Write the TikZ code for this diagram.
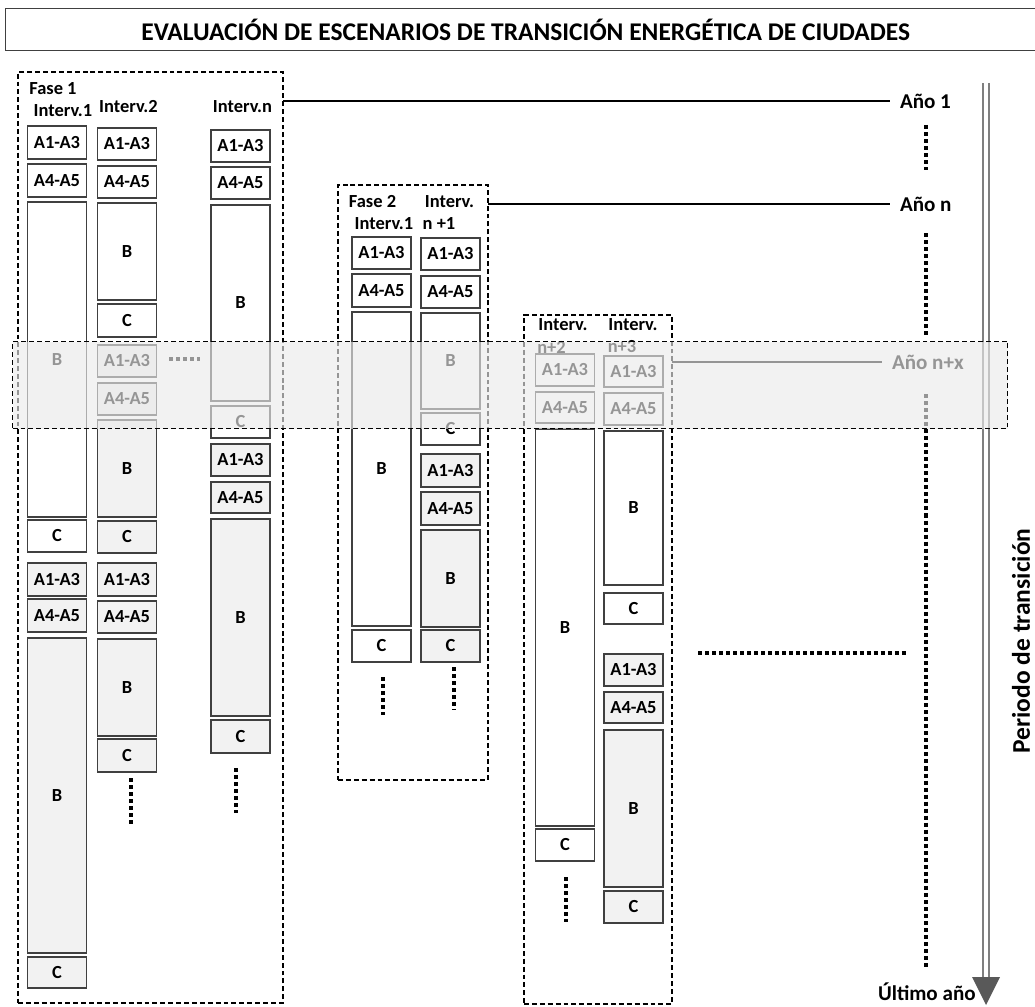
\documentclass[tikz,border=0pt]{standalone}
\usepackage{fontspec}
\setmainfont{Carlito}
\usepackage{tikz}
\definecolor{cellGrey}{HTML}{F2F2F2}
\definecolor{cellLine}{HTML}{404040}
\definecolor{bandFill}{HTML}{EAEAEA}
\definecolor{shaftGrey}{HTML}{7F7F7F}
\definecolor{tipGrey}{HTML}{595959}

\begin{document}
\begin{tikzpicture}[x=0.02cm, y=-0.02cm,
    cell/.style={draw=cellLine, line width=0.85pt, minimum width=59*0.02cm, inner sep=0pt, outer sep=0pt, anchor=north, font=\fontsize{10.5}{12}\selectfont\bfseries},
    wcell/.style={cell, fill=white},
    gcell/.style={cell, fill=cellGrey},
    bh/.style={minimum height=#1*0.02cm},
    phase/.style={draw, dash pattern=on 2.8pt off 1.7pt, line width=0.75pt, inner sep=0pt, outer sep=0pt, anchor=north west},
    lbl/.style={font=\fontsize{10.5}{12}\selectfont\bfseries, inner sep=0pt},
    year/.style={font=\fontsize{12}{14}\selectfont\bfseries, anchor=west, inner xsep=5.5pt, inner ysep=0pt},
    dotline/.style={line width=2.3pt, dash pattern=on 2.3pt off 1.7pt}]
        \useasboundingbox (0,0) rectangle (1035,1007);

        \node[draw=cellLine, line width=0.8pt, anchor=north west, minimum width=1040*0.02cm, minimum height=42*0.02cm, font=\fontsize{14.5}{16}\selectfont\bfseries] (titulo) at (5,8) {EVALUACIÓN DE ESCENARIOS DE TRANSICIÓN ENERGÉTICA DE CIUDADES};

        \node[phase, minimum width=265*0.02cm, minimum height=931*0.02cm] (fase1) at (18,72) {};
        \node[lbl, anchor=west] (f1) at (29,89) {Fase 1};
        \node[lbl] (f1i1) at (63,111) {Interv.1};
        \node[lbl] (f1i2) at (128.5,107) {Interv.2};
        \node[lbl] (f1in) at (242.5,107) {Interv.n};

        \node[wcell, bh=33] (p1c1a) at (57,126) {A1-A3};
        \node[wcell, bh=33] (p1c1b) at (57,164) {A4-A5};
        \node[wcell, bh=315] (p1c1c) at (57,202) {B};
        \node[wcell, bh=32] (p1c1d) at (57,520) {C};
        \node[gcell, bh=33] (p1c1e) at (57,563) {A1-A3};
        \node[gcell, bh=33] (p1c1f) at (57,599) {A4-A5};
        \node[gcell, bh=315] (p1c1g) at (57,638) {B};
        \node[gcell, bh=31] (p1c1h) at (57,957) {C};

        \node[wcell, bh=32] (p1c2a) at (127,128) {A1-A3};
        \node[wcell, bh=32] (p1c2b) at (127,166) {A4-A5};
        \node[wcell, bh=97] (p1c2c) at (127,203) {B};
        \node[wcell, bh=33] (p1c2d) at (127,304) {C};
        \node[gcell, bh=32] (p1c2e) at (127,345) {A1-A3};
        \node[gcell, bh=32] (p1c2f) at (127,383) {A4-A5};
        \node[gcell, bh=97] (p1c2g) at (127,420) {B};
        \node[gcell, bh=32] (p1c2h) at (127,521) {C};
        \node[gcell, bh=33] (p1c2i) at (127,563) {A1-A3};
        \node[gcell, bh=32] (p1c2j) at (127,601) {A4-A5};
        \node[gcell, bh=97] (p1c2k) at (127,639) {B};
        \node[gcell, bh=33] (p1c2l) at (127,739) {C};

        \node[wcell, bh=32] (p1c3a) at (240.5,130) {A1-A3};
        \node[wcell, bh=32] (p1c3b) at (240.5,167) {A4-A5};
        \node[wcell, bh=196] (p1c3c) at (240.5,205) {B};
        \node[wcell, bh=32] (p1c3d) at (240.5,406) {C};
        \node[gcell, bh=32] (p1c3e) at (240.5,444) {A1-A3};
        \node[gcell, bh=31] (p1c3f) at (240.5,482) {A4-A5};
        \node[gcell, bh=197] (p1c3g) at (240.5,519) {B};
        \node[gcell, bh=33] (p1c3h) at (240.5,720) {C};

        \draw[dotline] (131,778) -- (131,824);
        \draw[dotline] (236,768) -- (236,813);
        \draw[dotline] (169,359) -- (200,359);

        \node[phase, minimum width=150*0.02cm, minimum height=595*0.02cm] (fase2) at (338,185) {};
        \node[lbl] (f2) at (372.5,202) {Fase 2};
        \node[lbl] (f2i1) at (384,224) {Interv.1};
        \node[lbl] (f2i2a) at (449.5,202) {Interv.};
        \node[lbl] (f2i2b) at (439,224) {n +1};

        \node[wcell, bh=32] (p2c1a) at (381.5,237) {A1-A3};
        \node[wcell, bh=33] (p2c1b) at (381.5,274) {A4-A5};
        \node[wcell, bh=314] (p2c1c) at (381.5,312) {B};
        \node[wcell, bh=32] (p2c1d) at (381.5,630) {C};

        \node[wcell, bh=32] (p2c2a) at (450.5,238) {A1-A3};
        \node[wcell, bh=32] (p2c2b) at (450.5,276) {A4-A5};
        \node[wcell, bh=96] (p2c2c) at (450.5,313) {B};
        \node[wcell, bh=32] (p2c2d) at (450.5,413) {C};
        \node[gcell, bh=33] (p2c2e) at (450.5,454) {A1-A3};
        \node[gcell, bh=33] (p2c2f) at (450.5,492) {A4-A5};
        \node[gcell, bh=97] (p2c2g) at (450.5,530) {B};
        \node[gcell, bh=32] (p2c2h) at (450.5,630) {C};

        \draw[dotline] (383,677) -- (383,715);
        \draw[dotline] (454,667) -- (454,710);

        \node[phase, minimum width=148*0.02cm, minimum height=689*0.02cm] (fase3) at (524,315) {};
        \node[lbl] (f3i1a) at (563,325) {Interv.};
        \node[lbl] (f3i1b) at (551.5,347) {n+2};
        \node[lbl] (f3i2a) at (633,325) {Interv.};
        \node[lbl] (f3i2b) at (622,347) {n+3};

        \node[wcell, bh=32] (p3c1a) at (565,354) {A1-A3};
        \node[wcell, bh=31] (p3c1b) at (565,392) {A4-A5};
        \node[wcell, bh=397] (p3c1c) at (565,429) {B};
        \node[wcell, bh=32] (p3c1d) at (565,829) {C};

        \node[wcell, bh=31] (p3c2a) at (633.5,356) {A1-A3};
        \node[wcell, bh=32] (p3c2b) at (633.5,393) {A4-A5};
        \node[wcell, bh=154] (p3c2c) at (633.5,431) {B};
        \node[wcell, bh=31] (p3c2d) at (633.5,593) {C};
        \node[gcell, bh=32] (p3c2e) at (633.5,654) {A1-A3};
        \node[gcell, bh=31] (p3c2f) at (633.5,692) {A4-A5};
        \node[gcell, bh=157] (p3c2g) at (633.5,730) {B};
        \node[gcell, bh=32] (p3c2h) at (633.5,891) {C};

        \draw[dotline] (566,877) -- (566,922);
        \draw[dotline] (698,653) -- (907,653);

        \node[year] (ano1) at (890,101) {Año 1};
        \node[year] (anon) at (890,204) {Año n};
        \node[year] (anonx) at (882,362) {Año n+x};
        \draw[line width=0.7pt] (fase1.east |- ano1) -- (ano1.west);
        \draw[line width=0.7pt] (fase2.east |- anon) -- (anon.west);
        \draw[line width=0.7pt] (fase3.east |- anonx) -- (anonx.west);

        \draw[dotline] (926,125) -- (926,170);
        \draw[dotline] (926,233) -- (926,338);
        \draw[dotline] (926,394) -- (926,970);

        \coordinate (flechaIni) at (986,83);
        \coordinate (flechaFin) at (986,977);
        \coordinate (flechaPunta) at (986,1005);
        \draw[shaftGrey, line width=1.1pt, double=white, double distance=2.3pt] (flechaIni) -- (flechaFin);
        \fill[tipGrey] ([xshift=-14*0.02cm]flechaFin) -- ([xshift=14*0.02cm]flechaFin) -- (flechaPunta) -- cycle;
        \node[year, anchor=east, inner sep=0pt] (ultimo) at (976,992) {Último año};
        \node[rotate=90, inner sep=0pt, font=\fontsize{14.5}{16}\selectfont\bfseries] (periodo) at (1021,641) {Periodo de transición};

        \node[fill=bandFill, fill opacity=0.64, draw=black, line width=0.75pt, dash pattern=on 2.8pt off 1.7pt, anchor=north west, minimum width=995*0.02cm, minimum height=87*0.02cm] (banda) at (12,341) {};
\end{tikzpicture}
\end{document}
